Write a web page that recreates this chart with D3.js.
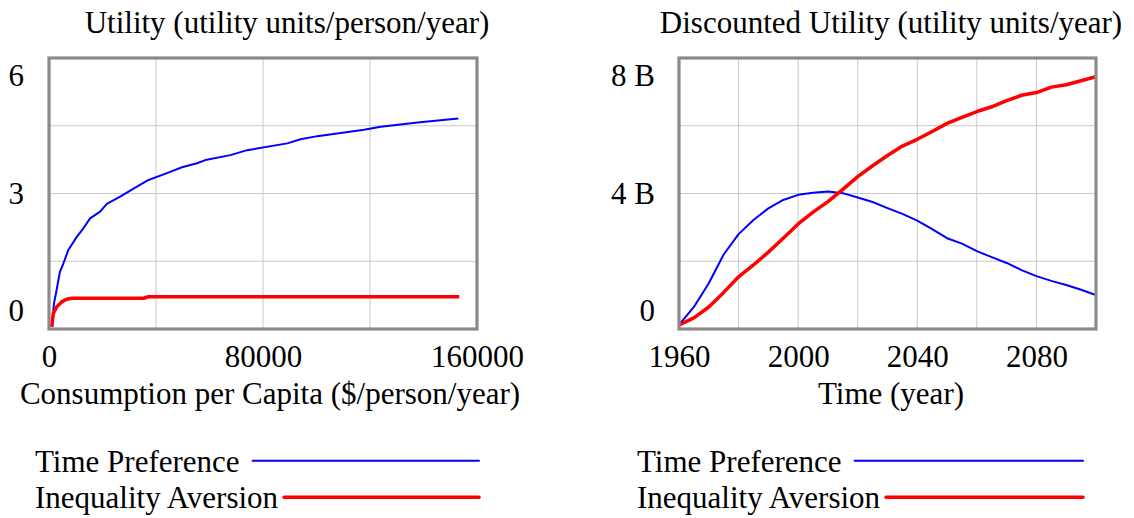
<!DOCTYPE html>
<html>
<head>
<meta charset="utf-8">
<script src="https://cdn.jsdelivr.net/npm/d3@7"></script>
<style>
  html, body { margin: 0; padding: 0; background: #fff; }
  svg { display: block; }
  text { font-family: "Liberation Serif", "Times New Roman", serif; fill: #000; }
</style>
</head>
<body>
<svg id="chart" width="1134" height="518"></svg>
<script>
// ---------- DATA ----------
// Left chart: Utility vs Consumption per Capita
const leftXTicks = [0, 80000, 160000];
const leftXGrid = [0, 40000, 80000, 120000, 160000];
const leftYTicks = [0, 3, 6];
const leftYTickLabels = ["0", "3", "6"];
const leftYGrid = [0, 1.5, 3, 4.5, 6];

const tpConsumption = [1240, 1370, 1870, 2620, 3500, 4120, 5360, 7230, 10380, 12850, 15360, 19110, 21620, 26600, 31590, 37210, 44100, 49720, 55340, 58450, 67820, 74080, 89070, 94050, 100300, 117770, 124000, 137780, 153000];
const tpUtility     = [0.05, 0.27, 0.57, 0.79, 1.08, 1.27, 1.45, 1.75, 2.04, 2.23, 2.45, 2.60, 2.77, 2.93, 3.11, 3.30, 3.45, 3.58, 3.67, 3.74, 3.85, 3.96, 4.11, 4.20, 4.27, 4.41, 4.48, 4.57, 4.66];

const iaConsumption = [1000, 1620, 2870, 4740, 6610, 8490, 35330, 37210, 153370];
const iaUtility     = [0.05, 0.35, 0.49, 0.60, 0.66, 0.68, 0.68, 0.715, 0.715];

// Right chart: Discounted Utility vs Time
const rightXTicks = [1960, 2000, 2040, 2080];
const rightXGrid = [1960, 1980, 2000, 2020, 2040, 2060, 2080, 2100];
const rightYTicks = [0, 4e9, 8e9];
const rightYTickLabels = ["0", "4 B", "8 B"];
const rightYGrid = [0, 2e9, 4e9, 6e9, 8e9];

const years = [1960, 1965, 1970, 1975, 1980, 1985, 1990, 1995, 2000, 2005, 2010, 2015, 2020, 2025, 2030, 2035, 2040, 2045, 2050, 2055, 2060, 2065, 2070, 2075, 2080, 2085, 2090, 2095, 2100];
const discTimePref  = [0.12, 0.65, 1.35, 2.20, 2.80, 3.22, 3.56, 3.81, 3.96, 4.02, 4.06, 4.01, 3.88, 3.75, 3.57, 3.40, 3.20, 2.95, 2.68, 2.52, 2.30, 2.12, 1.95, 1.74, 1.56, 1.42, 1.30, 1.16, 1.00].map(v => v * 1e9);
const discIneqAv    = [0.12, 0.33, 0.65, 1.08, 1.54, 1.89, 2.27, 2.68, 3.10, 3.45, 3.76, 4.12, 4.50, 4.82, 5.12, 5.40, 5.60, 5.83, 6.07, 6.25, 6.42, 6.56, 6.74, 6.90, 6.98, 7.14, 7.21, 7.33, 7.45].map(v => v * 1e9);

const seriesNames = ["Time Preference", "Inequality Aversion"];
const seriesColors = ["#0000ff", "#ff0000"];
const seriesWidths = [2, 3.5];

// ---------- DRAW ----------
const svg = d3.select("#chart");
const FS = 31;

function panel(cfg) {
  const g = svg.append("g");
  const x = d3.scaleLinear().domain(cfg.xDomain).range([cfg.x0, cfg.x1]);
  const y = d3.scaleLinear().domain(cfg.yDomain).range([cfg.y1, cfg.y0]);

  // gridlines
  g.append("g").selectAll("line").data(cfg.xGrid).join("line")
    .attr("x1", d => x(d)).attr("x2", d => x(d))
    .attr("y1", cfg.y0).attr("y2", cfg.y1)
    .attr("stroke", "#c8c8c8").attr("stroke-width", 1);
  g.append("g").selectAll("line").data(cfg.yGrid).join("line")
    .attr("x1", cfg.x0).attr("x2", cfg.x1)
    .attr("y1", d => y(d)).attr("y2", d => y(d))
    .attr("stroke", "#c8c8c8").attr("stroke-width", 1);

  // clip
  const cid = "clip" + cfg.id;
  svg.append("clipPath").attr("id", cid).append("rect")
    .attr("x", cfg.x0).attr("y", cfg.y0)
    .attr("width", cfg.x1 - cfg.x0).attr("height", cfg.y1 - cfg.y0);

  // series
  cfg.series.forEach((s, i) => {
    const pts = s.xs.map((v, k) => [v, s.ys[k]]);
    g.append("path")
      .attr("clip-path", `url(#${cid})`)
      .attr("d", d3.line().x(d => x(d[0])).y(d => y(d[1]))(pts))
      .attr("fill", "none")
      .attr("stroke", seriesColors[i])
      .attr("stroke-width", seriesWidths[i])
      .attr("stroke-linejoin", "round");
  });

  // frame
  g.append("rect")
    .attr("x", cfg.x0).attr("y", cfg.y0)
    .attr("width", cfg.x1 - cfg.x0).attr("height", cfg.y1 - cfg.y0)
    .attr("fill", "none").attr("stroke", "#8a8a8a").attr("stroke-width", 3.2);

  // x axis labels
  const xa = d3.axisBottom(x).tickValues(cfg.xTicks).tickSize(0).tickPadding(0)
    .tickFormat(d => String(d));
  const xg = g.append("g").attr("transform", `translate(0,${cfg.xLabelBaseline})`).call(xa);
  xg.select(".domain").remove();
  xg.selectAll("text").attr("font-size", FS).attr("dy", 0)
    .attr("font-family", "Liberation Serif").attr("fill", "#000");

  // y axis labels (spread like Vensim)
  const mid = (cfg.y0 + cfg.y1) / 2;
  g.append("g").selectAll("text").data(cfg.yTicks).join("text")
    .attr("x", cfg.yLabelRight)
    .attr("y", d => mid + (y(d) - mid) * 0.87 + 10)
    .attr("text-anchor", "end")
    .attr("font-size", FS)
    .text((d, i) => cfg.yTickLabels[i]);

  // title
  g.append("text").attr("x", cfg.titleX).attr("y", 33)
    .attr("text-anchor", "middle").attr("font-size", FS).text(cfg.title);
  // axis label
  g.append("text").attr("x", cfg.axisLabelX).attr("y", 403.5)
    .attr("text-anchor", "middle").attr("font-size", FS).text(cfg.axisLabel);

  // legend
  const lg = g.append("g");
  const rows = [{y: 471.7, ly: 460.7}, {y: 508.3, ly: 497.3}];
  seriesNames.forEach((name, i) => {
    const t = lg.append("text").attr("x", cfg.legendX).attr("y", rows[i].y)
      .attr("font-size", FS).text(name);
    const w = t.node().getComputedTextLength();
    lg.append("line")
      .attr("x1", cfg.legendX + w + (i === 0 ? 13 : 6))
      .attr("x2", cfg.legendLineEnd)
      .attr("y1", rows[i].ly).attr("y2", rows[i].ly)
      .attr("stroke", seriesColors[i])
      .attr("stroke-width", i === 0 ? 2 : 3.5)
      .attr("stroke-linecap", "round");
  });
}

panel({
  id: "L",
  x0: 49, x1: 477, y0: 58, y1: 329,
  xDomain: [0, 160000], yDomain: [0, 6],
  xGrid: leftXGrid, yGrid: leftYGrid,
  xTicks: leftXTicks, yTicks: leftYTicks, yTickLabels: leftYTickLabels,
  xLabelBaseline: 366.7, yLabelRight: 24,
  title: "Utility (utility units/person/year)", titleX: 287,
  axisLabel: "Consumption per Capita ($/person/year)", axisLabelX: 270,
  legendX: 35, legendLineEnd: 479,
  series: [
    {xs: tpConsumption, ys: tpUtility},
    {xs: iaConsumption, ys: iaUtility}
  ]
});

panel({
  id: "R",
  x0: 679, x1: 1096, y0: 58, y1: 329,
  xDomain: [1960, 2100], yDomain: [0, 8e9],
  xGrid: rightXGrid, yGrid: rightYGrid,
  xTicks: rightXTicks, yTicks: rightYTicks, yTickLabels: rightYTickLabels,
  xLabelBaseline: 366.7, yLabelRight: 655,
  title: "Discounted Utility (utility units/year)", titleX: 891,
  axisLabel: "Time (year)", axisLabelX: 891,
  legendX: 637, legendLineEnd: 1083,
  series: [
    {xs: years, ys: discTimePref},
    {xs: years, ys: discIneqAv}
  ]
});
</script>
</body>
</html>
